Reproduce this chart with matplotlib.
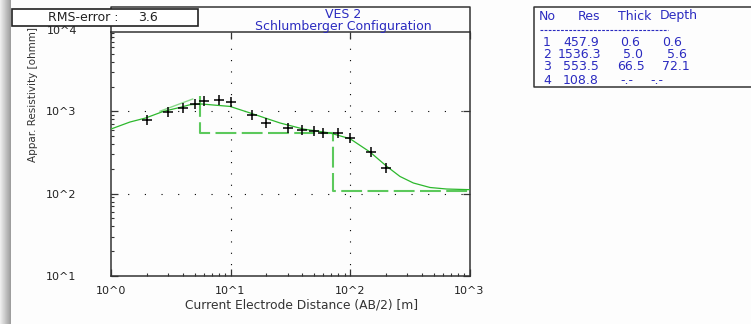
import numpy as np
import matplotlib.pyplot as plt
from matplotlib.patches import Rectangle
from matplotlib.lines import Line2D
from matplotlib.ticker import NullFormatter

plt.rcParams["font.family"] = ["DejaVu Sans"]

# -------------------------------------------
# data

ab2 = [2, 3, 4, 5, 6, 8, 10, 15, 20, 30, 40, 50, 60, 80, 100, 150, 200]
rho_obs = [790, 990, 1090, 1220, 1320, 1390, 1290, 910, 715, 625, 595, 572, 552, 546, 475, 320, 203]

curve_ab2 = [1.0, 1.44, 1.95, 2.74, 3.78, 4.58, 5.74, 9.9, 14.6, 26, 40.7, 68,
             100, 147, 203, 262, 339, 467, 645, 1000]
curve_rho = [611, 743, 832, 1000, 1119, 1206, 1230, 1150, 957, 723, 611, 547,
             466, 321, 215, 162, 135, 119, 114, 112]

partial_ab2 = [2.57, 4.83]
partial_rho = [1005, 1415]

layer_no = [1, 2, 3, 4]
layer_res = [457.9, 1536.3, 553.5, 108.8]
layer_thick = ["0.6", "5.0", "66.5", "-.-"]
layer_depth = ["0.6", "5.6", "72.1", "-.-"]
depth_val = [0.6, 5.6, 72.1]

rms_error = 3.6
xtick_vals = [1, 10, 100, 1000]
xtick_labels = ["10^0", "10^1", "10^2", "10^3"]
ytick_vals = [10, 100, 1000]
ytick_labels = ["10^1", "10^2", "10^3"]

# -------------------------------------------
W, H = 751, 324
fig = plt.figure(figsize=(7.51, 3.24), dpi=100, facecolor="#fdfdfd")


def fx(px):
    return px / W


def fy(py):
    return 1 - py / H


frame_col = "#333333"
blue = "#2b2bc0"

ax = fig.add_axes([fx(111), fy(276), fx(469.5) - fx(111), fy(32) - fy(276)])
ax.set_facecolor("#fdfdfd")
ax.set_xscale("log")
ax.set_yscale("log")
ax.set_xlim(1, 1000)
ax.set_ylim(10, 10 ** 3.965)

# dotted grid
for yv in ytick_vals[1:]:
    ax.axhline(yv, color="k", lw=0.8, ls=(0, (1, 14)), zorder=1)
for xv in xtick_vals[1:3]:
    ax.axvline(xv, color="k", lw=0.8, ls=(0, (1, 9.2)), zorder=1)

# layered model (step)
step_x = [depth_val[1], depth_val[1], depth_val[2], depth_val[2], 1000]
step_y = [layer_res[1], layer_res[2], layer_res[2], layer_res[3], layer_res[3]]
ax.plot(step_x, step_y, color="#5cc95c", lw=1.5, ls=(0, (10, 2.6)), zorder=2)

ax.plot(partial_ab2, partial_rho, color="#8ad98a", lw=1.0, zorder=2)
ax.plot(curve_ab2, curve_rho, color="#2db82d", lw=0.9, zorder=3)
ax.plot(ab2, rho_obs, ls="none", marker="+", ms=7, mew=1.1, color="k", zorder=4)

for s in ax.spines.values():
    s.set_color(frame_col)
    s.set_linewidth(1.1)

ax.set_xticks(xtick_vals, labels=xtick_labels)
ax.set_yticks(ytick_vals, labels=ytick_labels)
ax.xaxis.set_minor_formatter(NullFormatter())
ax.yaxis.set_minor_formatter(NullFormatter())
ax.tick_params(which="major", direction="in", length=5, width=0.9, color=frame_col,
               top=True, right=True, labelsize=8, labelcolor="#222222")
ax.tick_params(axis="x", which="major", pad=7)
ax.tick_params(axis="y", which="major", pad=25)
ax.tick_params(which="minor", direction="in", length=2.2, width=0.8, color=frame_col,
               top=False, right=False)

fig.text(fx(77), fy(31.5), "10^4", ha="right", va="center", fontsize=8, color="#222222")

fig.text(fx(302), fy(305), "Current Electrode Distance (AB/2) [m]", ha="center",
         va="center", fontsize=8.8, color="#333333")
fig.text(fx(33), fy(95), "Appar. Resistivity [ohmm]", ha="center", va="center",
         rotation=90, fontsize=7.5, color="#333333")

# title box above the plot
fig.add_artist(Line2D([fx(111), fx(111), fx(470), fx(470)], [fy(32), fy(7), fy(7), fy(32)],
                      transform=fig.transFigure, color=frame_col, lw=1.1))
fig.text(fx(343), fy(14), "VES 2", ha="center", va="center", fontsize=9, color=blue)
fig.text(fx(343), fy(26.5), "Schlumberger Configuration", ha="center", va="center",
         fontsize=9, color=blue)

# RMS box
fig.add_artist(Rectangle((fx(12), fy(26)), fx(198) - fx(12), fy(9) - fy(26),
                         transform=fig.transFigure, facecolor="white",
                         edgecolor="#222222", lw=1.2, zorder=5))
fig.text(fx(48), fy(17.5), "RMS-error :", ha="left", va="center", fontsize=9,
         color="#222222", zorder=6)
fig.text(fx(138), fy(17.5), f"{rms_error:.1f}", ha="left", va="center", fontsize=9,
         color="#222222", zorder=6)

# layer table
fig.add_artist(Line2D([fx(760), fx(534), fx(534), fx(760)], [fy(7), fy(7), fy(87), fy(87)],
                      transform=fig.transFigure, color=frame_col, lw=1.1))
for txt, px in zip(["No", "Res", "Thick", "Depth"], [539, 578, 618, 660]):
    fig.text(fx(px), fy(16), txt, ha="left", va="center", fontsize=9, color=blue)
fig.add_artist(Line2D([fx(540), fx(668)], [fy(30), fy(30)], transform=fig.transFigure,
                      color=blue, lw=0.8, ls=(0, (2.5, 1.2))))
row_y = [42, 54, 67, 80]
res_x = [563, 558, 563, 563]
thick_x = [620, 623, 617, 620]
depth_x = [662, 667, 662, 650]
for i in range(len(layer_no)):
    fig.text(fx(551), fy(row_y[i]), str(layer_no[i]), ha="right", va="center",
             fontsize=9, color=blue)
    fig.text(fx(res_x[i]), fy(row_y[i]), f"{layer_res[i]:.1f}", ha="left", va="center",
             fontsize=9, color=blue)
    fig.text(fx(thick_x[i]), fy(row_y[i]), layer_thick[i], ha="left", va="center",
             fontsize=9, color=blue)
    fig.text(fx(depth_x[i]), fy(row_y[i]), layer_depth[i], ha="left", va="center",
             fontsize=9, color=blue)

# grey window edge on the left
gax = fig.add_axes([0, 0, fx(11), 1])
shade = np.linspace(0.93, 0.62, 12)[None, :]
gax.imshow(shade, cmap="gray", vmin=0, vmax=1, aspect="auto")
gax.axis("off")

fig.savefig("out.png", dpi=100, facecolor=fig.get_facecolor())
